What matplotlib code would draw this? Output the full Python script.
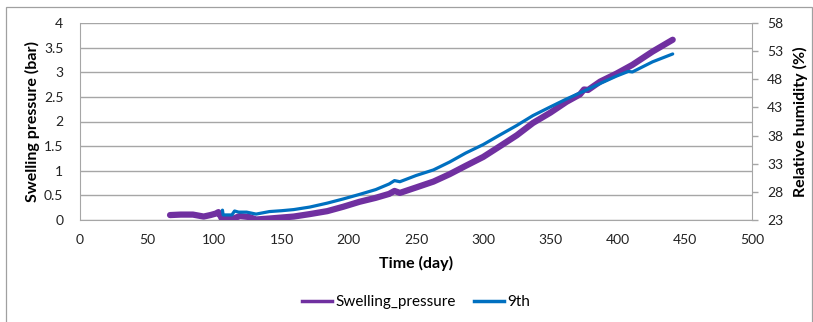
import matplotlib
matplotlib.use("Agg")
import matplotlib.pyplot as plt
from matplotlib.patches import Rectangle
from matplotlib.lines import Line2D

plt.rcParams['font.family'] = ['Lato', 'DejaVu Sans']

# Swelling pressure (bar), left axis
sp_day = [67, 75, 84, 92, 97, 101, 103, 105.5, 114, 119, 126, 131, 141, 150, 159, 171,
          184, 196, 208, 220, 230, 234, 238, 250, 263, 275, 287, 300, 312, 325, 337,
          350, 362, 372, 375, 378, 387, 399, 411, 426, 441]
sp_val = [0.10, 0.11, 0.11, 0.07, 0.10, 0.13, 0.16, 0.03, 0.03, 0.08, 0.06, 0.01, 0.03,
          0.05, 0.07, 0.12, 0.18, 0.27, 0.37, 0.45, 0.53, 0.59, 0.55, 0.66, 0.78, 0.93,
          1.10, 1.28, 1.49, 1.72, 1.97, 2.18, 2.40, 2.55, 2.65, 2.64, 2.81, 2.97, 3.15,
          3.42, 3.66]

# 9th: relative humidity (%), right axis
rh_day = [106, 106.5, 110, 113, 115, 118, 124, 131, 141, 150, 159, 171, 184, 196, 208,
          220, 230, 234, 238, 250, 263, 275, 287, 300, 312, 325, 337, 350, 362, 375,
          387, 399, 408, 411, 426, 441]
rh_val = [24.75, 23.9, 23.9, 23.9, 24.6, 24.4, 24.4, 24.05, 24.5, 24.65, 24.85, 25.3,
          26.0, 26.75, 27.55, 28.4, 29.4, 30.0, 29.8, 30.9, 31.9, 33.3, 34.9, 36.4,
          38.05, 39.8, 41.55, 43.1, 44.5, 45.9, 47.25, 48.55, 49.4, 49.3, 51.1, 52.5]

x_ticks = [0, 50, 100, 150, 200, 250, 300, 350, 400, 450, 500]
left_ticks = [0, 0.5, 1, 1.5, 2, 2.5, 3, 3.5, 4]
left_labels = ['0', '0.5', '1', '1.5', '2', '2.5', '3', '3.5', '4']
right_ticks = [23, 28, 33, 38, 43, 48, 53, 58]

W, H = 813, 322
fig = plt.figure(figsize=(W / 100, H / 100), dpi=100)
fig.patches.append(Rectangle((6 / W, -0.01), (812 - 6) / W, 1 - 7 / H + 0.01,
                             transform=fig.transFigure, fill=False,
                             edgecolor='#A0A0A0', linewidth=0.9))

ax = fig.add_axes([80 / W, 1 - 220 / H, (752 - 80) / W, (220 - 23) / H])
ax2 = ax.twinx()

grid_c = '#A6A6A6'
purple = '#7030A0'
blue = '#0070C0'

ax.set_xlim(0, 500)
ax.set_ylim(0, 4)
ax2.set_ylim(23, 58)
ax.set_xticks(x_ticks)
ax.set_yticks(left_ticks)
ax.set_yticklabels(left_labels)
ax2.set_yticks(right_ticks)
ax.grid(axis='y', color=grid_c, linewidth=1.0)
ax.set_axisbelow(True)

for a in (ax, ax2):
    for s in a.spines.values():
        s.set_visible(False)
ax.spines['left'].set_visible(True)
ax.spines['left'].set_color(grid_c)
ax.spines['bottom'].set_visible(True)
ax.spines['bottom'].set_color(grid_c)
ax2.spines['right'].set_visible(True)
ax2.spines['right'].set_color(grid_c)

ax.tick_params(axis='x', length=0, pad=10, labelsize=10, colors='#222222')
ax.tick_params(axis='y', length=0, pad=12, labelsize=10, colors='#222222')
ax2.tick_params(axis='y', length=4, width=1, color=grid_c, pad=7, labelsize=10,
                labelcolor='#222222')

l1, = ax.plot(sp_day, sp_val, color=purple, linewidth=4.5, solid_capstyle='round',
              solid_joinstyle='round', zorder=3)
l2, = ax2.plot(rh_day, rh_val, color=blue, linewidth=2.3, solid_capstyle='round',
               solid_joinstyle='round', zorder=4)

ax.set_xlabel('Time (day)', fontsize=11.5, fontweight='bold', labelpad=7)
ax.set_ylabel('Swelling pressure (bar)', fontsize=11.5, fontweight='bold', labelpad=3)
ax2.set_ylabel('Relative humidity (%)', fontsize=11.5, fontweight='bold', labelpad=7)

h1 = Line2D([], [], color=purple, linewidth=2.5)
h2 = Line2D([], [], color=blue, linewidth=2.5)
fig.legend([h1, h2], ['Swelling_pressure', '9th'], loc='center',
           bbox_to_anchor=(416 / W, 1 - 302 / H), ncol=2, frameon=False,
           fontsize=11, handlelength=2.0, handletextpad=0.2, columnspacing=1.2)

fig.savefig('out.png', dpi=100)
